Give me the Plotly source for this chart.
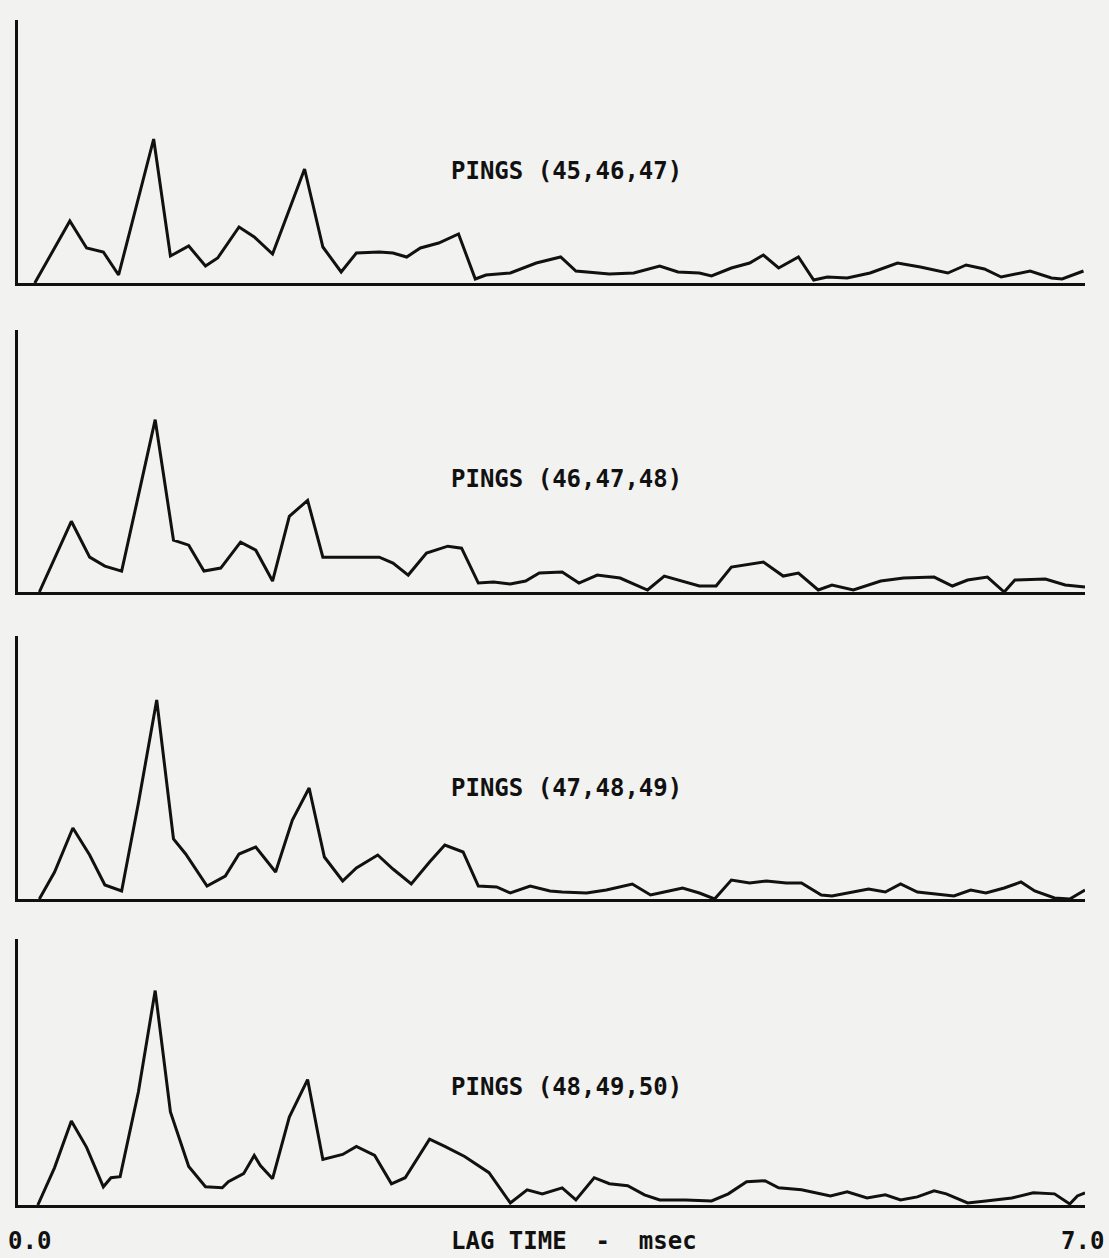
import plotly.graph_objects as go

# ---- data (lag in msec, amplitude in arbitrary units) ----
labels = ["PINGS (45,46,47)", "PINGS (46,47,48)", "PINGS (47,48,49)", "PINGS (48,49,50)"]

lag_1 = [0.11, 0.34, 0.45, 0.56, 0.66, 0.89, 1.00, 1.12, 1.23, 1.31, 1.45, 1.55, 1.67, 1.88,
         2.00, 2.12, 2.22, 2.37, 2.46, 2.55, 2.64, 2.76, 2.89, 3.00, 3.07, 3.23, 3.40, 3.56,
         3.66, 3.88, 4.04, 4.21, 4.33, 4.47, 4.55, 4.68, 4.80, 4.89, 4.99, 5.12, 5.22, 5.31,
         5.44, 5.59, 5.77, 5.92, 6.10, 6.22, 6.34, 6.45, 6.64, 6.78, 6.85, 6.99]
amp_1 = [0, 62, 35, 31, 8, 144, 27, 37, 17, 25, 56, 46, 29, 114,
         36, 11, 30, 31, 30, 26, 35, 40, 49, 4, 8, 10, 20, 26,
         12, 9, 10, 17, 11, 10, 7, 15, 20, 28, 15, 26, 3, 6,
         5, 10, 20, 16, 10, 18, 14, 6, 12, 5, 4, 12]

lag_2 = [0.14, 0.35, 0.47, 0.57, 0.68, 0.90, 1.02, 1.12, 1.22, 1.33, 1.46, 1.56, 1.67, 1.78,
         1.90, 2.00, 2.37, 2.46, 2.56, 2.68, 2.82, 2.91, 3.02, 3.12, 3.23, 3.33, 3.42, 3.57,
         3.68, 3.80, 3.95, 4.13, 4.24, 4.38, 4.47, 4.58, 4.68, 4.89, 5.02, 5.12, 5.25, 5.34,
         5.48, 5.66, 5.81, 6.01, 6.13, 6.23, 6.36, 6.47, 6.54, 6.74, 6.87, 7.00]
amp_2 = [0, 71, 35, 26, 21, 173, 52, 47, 21, 24, 50, 42, 11, 76,
         92, 35, 35, 29, 17, 39, 46, 44, 9, 10, 8, 11, 19, 20,
         9, 17, 14, 2, 16, 10, 6, 6, 25, 30, 16, 19, 2, 7,
         2, 11, 14, 15, 6, 12, 15, 0, 12, 13, 7, 5]

lag_3 = [0.14, 0.24, 0.36, 0.47, 0.57, 0.68, 0.79, 0.91, 1.02, 1.10, 1.24, 1.36, 1.45, 1.56,
         1.69, 1.80, 1.91, 2.01, 2.13, 2.22, 2.36, 2.46, 2.58, 2.70, 2.80, 2.92, 3.02, 3.14,
         3.23, 3.36, 3.49, 3.57, 3.73, 3.86, 4.03, 4.15, 4.24, 4.36, 4.47, 4.57, 4.68, 4.80,
         4.91, 5.04, 5.14, 5.27, 5.34, 5.47, 5.58, 5.69, 5.79, 5.90, 6.04, 6.14, 6.25, 6.35,
         6.47, 6.58, 6.67, 6.80, 6.90, 7.00]
amp_3 = [0, 27, 71, 44, 14, 8, 96, 199, 60, 45, 13, 23, 45, 52,
         27, 79, 111, 42, 18, 31, 44, 30, 15, 37, 54, 47, 13, 12,
         6, 13, 8, 7, 6, 9, 15, 4, 7, 11, 6, 0, 19, 16,
         18, 16, 16, 4, 3, 7, 10, 7, 15, 7, 5, 3, 9, 6,
         11, 17, 8, 1, 0, 9]

lag_4 = [0.13, 0.24, 0.35, 0.45, 0.56, 0.61, 0.67, 0.79, 0.90, 1.00, 1.12, 1.23, 1.34, 1.38,
         1.48, 1.55, 1.59, 1.67, 1.78, 1.90, 2.00, 2.13, 2.22, 2.34, 2.45, 2.54, 2.70, 2.80,
         2.93, 3.09, 3.23, 3.34, 3.44, 3.57, 3.66, 3.73, 3.78, 3.88, 4.00, 4.11, 4.21, 4.38,
         4.55, 4.66, 4.78, 4.90, 4.99, 5.14, 5.33, 5.44, 5.57, 5.69, 5.79, 5.90, 6.01, 6.09,
         6.23, 6.35, 6.52, 6.66, 6.80, 6.90, 6.95, 7.00]
amp_4 = [0, 37, 83, 57, 18, 27, 28, 112, 212, 92, 38, 18, 17, 23,
         31, 49, 39, 26, 87, 124, 45, 50, 58, 49, 21, 27, 65, 58,
         48, 32, 2, 15, 11, 17, 5, 18, 27, 21, 19, 10, 5, 5,
         4, 11, 23, 24, 17, 15, 9, 13, 7, 10, 5, 8, 14, 11,
         2, 4, 7, 12, 11, 1, 9, 12]

lags = [lag_1, lag_2, lag_3, lag_4]
amps = [amp_1, amp_2, amp_3, amp_4]

x_range = [0.0, 7.0]
y_range = [0, 263]
x_tick_left = "0.0"
x_tick_right = "7.0"
x_title = "LAG TIME\u00a0\u00a0-\u00a0\u00a0msec"

# ---- layout geometry (pixels in a 1109 x 1258 page) ----
W, H = 1109, 1258
x_dom = [18 / W, 1085 / W]
panels_px = [(20, 283), (330, 592), (636, 899), (939, 1205)]  # (top, baseline)
label_y_px = [171, 479, 788, 1087]
FONT = "DejaVu Sans Mono"
INK = "#111111"
FS = 24

fig = go.Figure()
layout = dict(
    width=W, height=H,
    margin=dict(l=0, r=0, t=0, b=0),
    paper_bgcolor="#f2f2f0",
    plot_bgcolor="rgba(0,0,0,0)",
    showlegend=False,
    annotations=[],
)

for i, (top, base) in enumerate(panels_px):
    n = "" if i == 0 else str(i + 1)
    fig.add_trace(go.Scatter(
        x=lags[i], y=amps[i], mode="lines",
        line=dict(color=INK, width=3),
        xaxis="x" + n, yaxis="y" + n, name=labels[i],
        hoverinfo="skip",
    ))
    layout["xaxis" + n] = dict(
        domain=x_dom, range=x_range, anchor="y" + n,
        showline=True, linecolor=INK, linewidth=3,
        showgrid=False, zeroline=False, showticklabels=False, ticks="",
    )
    layout["yaxis" + n] = dict(
        domain=[1 - base / H, 1 - top / H], range=y_range, anchor="x" + n,
        showline=True, linecolor=INK, linewidth=3,
        showgrid=False, zeroline=False, showticklabels=False, ticks="",
    )
    layout["annotations"].append(dict(
        text="<b>" + labels[i] + "</b>", xref="paper", yref="paper",
        x=449 / W, y=1 - label_y_px[i] / H, xanchor="left", yanchor="middle",
        showarrow=False, font=dict(family=FONT, size=FS, color=INK),
    ))

layout["annotations"] += [
    dict(text="<b>" + x_tick_left + "</b>", xref="paper", yref="paper", x=6 / W, y=1 - 1241 / H,
         xanchor="left", yanchor="middle", showarrow=False,
         font=dict(family=FONT, size=FS, color=INK)),
    dict(text="<b>" + x_title + "</b>", xref="paper", yref="paper", x=449 / W, y=1 - 1241 / H,
         xanchor="left", yanchor="middle", showarrow=False,
         font=dict(family=FONT, size=FS, color=INK)),
    dict(text="<b>" + x_tick_right + "</b>", xref="paper", yref="paper", x=1106 / W, y=1 - 1241 / H,
         xanchor="right", yanchor="middle", showarrow=False,
         font=dict(family=FONT, size=FS, color=INK)),
]

fig.update_layout(**layout)
fig.write_html("out.html",
               config={"displayModeBar": False, "staticPlot": True},
               post_script="document.body.style.margin='0';document.body.style.background='#f2f2f0';")
